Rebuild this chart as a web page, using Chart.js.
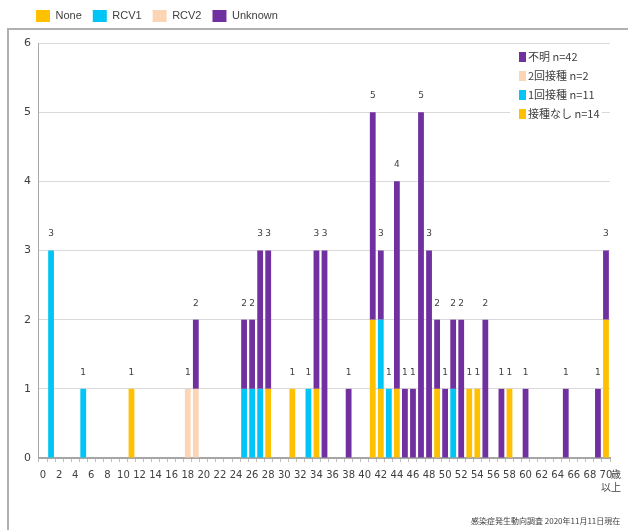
<!DOCTYPE html>
<html>
<head>
<meta charset="utf-8">
<script src="https://cdn.jsdelivr.net/npm/chart.js@4.4.1/dist/chart.umd.min.js"></script>
<style>
  html, body { margin: 0; padding: 0; background: #fff; }
  #wrap { position: relative; width: 628px; height: 530px; }
  #note { position: absolute; left: 471px; top: 515px; font: 8px "Noto Sans CJK JP", sans-serif; color: #404040; white-space: nowrap; }
</style>
</head>
<body>
<div id="wrap">
  <canvas id="chartcanvas" width="628" height="530"></canvas>
  <div id="note">感染症発生動向調査 2020年11月11日現在</div>
</div>
<script>
// ages 0 .. 70 (70 = 70歳以上)
var ages = [
  '0','1','2','3','4','5','6','7','8','9',
  '10','11','12','13','14','15','16','17','18','19',
  '20','21','22','23','24','25','26','27','28','29',
  '30','31','32','33','34','35','36','37','38','39',
  '40','41','42','43','44','45','46','47','48','49',
  '50','51','52','53','54','55','56','57','58','59',
  '60','61','62','63','64','65','66','67','68','69',
  '70'
];

var noneVals = [
  0,0,0,0,0,0,0,0,0,0,
  0,1,0,0,0,0,0,0,0,0,
  0,0,0,0,0,0,0,0,1,0,
  0,1,0,0,1,0,0,0,0,0,
  0,2,1,0,1,0,0,0,0,1,
  0,0,0,1,1,0,0,0,1,0,
  0,0,0,0,0,0,0,0,0,0,
  2
];
var rcv1Vals = [
  0,3,0,0,0,1,0,0,0,0,
  0,0,0,0,0,0,0,0,0,0,
  0,0,0,0,0,1,1,1,0,0,
  0,0,0,1,0,0,0,0,0,0,
  0,0,1,1,0,0,0,0,0,0,
  0,1,0,0,0,0,0,0,0,0,
  0,0,0,0,0,0,0,0,0,0,
  0
];
var rcv2Vals = [
  0,0,0,0,0,0,0,0,0,0,
  0,0,0,0,0,0,0,0,1,1,
  0,0,0,0,0,0,0,0,0,0,
  0,0,0,0,0,0,0,0,0,0,
  0,0,0,0,0,0,0,0,0,0,
  0,0,0,0,0,0,0,0,0,0,
  0,0,0,0,0,0,0,0,0,0,
  0
];
var unknownVals = [
  0,0,0,0,0,0,0,0,0,0,
  0,0,0,0,0,0,0,0,0,1,
  0,0,0,0,0,1,1,2,2,0,
  0,0,0,0,2,3,0,0,1,0,
  0,3,1,0,3,1,1,5,3,1,
  1,1,2,0,0,2,0,1,0,0,
  1,0,0,0,0,1,0,0,0,1,
  1
];

var seriesNames = ['None', 'RCV1', 'RCV2', 'Unknown'];
var seriesJa = ['接種なし', '1回接種', '2回接種', '不明'];
var colors = ['#FFC000', '#00C5F5', '#FCD5B5', '#7030A0'];
var yTicks = [0, 1, 2, 3, 4, 5, 6];

var allVals = [noneVals, rcv1Vals, rcv2Vals, unknownVals];

var datasets = [];
for (var i = 0; i < seriesNames.length; i++) {
  datasets.push({
    label: seriesNames[i],
    data: allVals[i],
    backgroundColor: colors[i],
    borderWidth: 0,
    categoryPercentage: 1.0,
    barPercentage: 0.72
  });
}

// frame around the inner chart
var framePlugin = {
  id: 'frame',
  beforeDraw: function(chart) {
    var c = chart.ctx;
    c.save();
    c.strokeStyle = '#b0b0b0';
    c.lineWidth = 2;
    c.beginPath();
    c.moveTo(8, 530);
    c.lineTo(8, 29);
    c.lineTo(628, 29);
    c.stroke();
    c.restore();
  }
};

// totals above stacks
var totalsPlugin = {
  id: 'totals',
  afterDatasetsDraw: function(chart) {
    var c = chart.ctx;
    var xs = chart.scales.x, ys = chart.scales.y;
    c.save();
    c.font = '9px "DejaVu Sans", sans-serif';
    c.fillStyle = '#404040';
    c.textAlign = 'center';
    c.textBaseline = 'bottom';
    for (var i = 0; i < ages.length; i++) {
      var t = 0;
      for (var k = 0; k < allVals.length; k++) t += allVals[k][i];
      if (t > 0) c.fillText(String(t), xs.getPixelForValue(i), ys.getPixelForValue(t) - 12);
    }
    c.restore();
  }
};

// "歳" and "以上" next to the last tick
var lastTick = {
  id: 'lastTick',
  afterDraw: function(chart) {
    var c = chart.ctx;
    var xs = chart.scales.x;
    var x = xs.getPixelForValue(70);
    c.save();
    c.font = '10px "Noto Sans CJK JP", sans-serif';
    c.fillStyle = '#404040';
    c.textBaseline = 'middle';
    c.textAlign = 'left';
    c.fillText('歳', x + 5, xs.top + 16);
    c.textAlign = 'center';
    c.fillText('以上', x + 5, xs.top + 29);
    c.restore();
  }
};

// japanese legend inside the plot
var innerLegend = {
  id: 'innerLegend',
  afterDatasetsDraw: function(chart) {
    var c = chart.ctx;
    c.save();
    c.fillStyle = '#fff';
    c.fillRect(510, 48, 92, 72);
    c.font = '11px "Noto Sans CJK JP", sans-serif';
    c.textBaseline = 'middle';
    c.textAlign = 'left';
    var y = 57;
    for (var k = allVals.length - 1; k >= 0; k--) {
      var n = 0;
      for (var i = 0; i < allVals[k].length; i++) n += allVals[k][i];
      c.fillStyle = colors[k];
      c.fillRect(519, y - 5, 7, 10);
      c.fillStyle = '#404040';
      c.fillText(seriesJa[k] + ' n=' + n, 528, y);
      y += 19;
    }
    c.restore();
  }
};

var legendGap = {
  id: 'legendGap',
  beforeInit: function(chart) {
    var fit = chart.legend.fit;
    chart.legend.fit = function() {
      fit.bind(chart.legend)();
      this.height += 11;
    };
  },
  afterLayout: function(chart) {
    chart.legend.left += 9;
    chart.legend.right += 9;
  }
};

var ctx = document.getElementById('chartcanvas');
var chart = new Chart(ctx, {
  type: 'bar',
  data: { labels: ages, datasets: datasets },
  plugins: [framePlugin, legendGap, totalsPlugin, innerLegend, lastTick],
  options: {
    responsive: false,
    animation: false,
    layout: { padding: { left: 16, right: 18, top: -1, bottom: 42 } },
    plugins: {
      legend: {
        position: 'top',
        align: 'start',
        labels: {
          boxWidth: 14,
          boxHeight: 12,
          padding: 11,
          color: '#404040',
          font: { family: '"Liberation Sans", sans-serif', size: 11 }
        }
      },
      tooltip: { enabled: false }
    },
    scales: {
      x: {
        stacked: true,
        grid: {
          display: true,
          drawOnChartArea: false,
          drawTicks: true,
          tickLength: 4,
          color: '#bfbfbf',
          offset: true
        },
        border: { color: '#a6a6a6', width: 2 },
        ticks: {
          autoSkip: false,
          maxRotation: 0,
          padding: 7,
          color: '#404040',
          font: { family: '"DejaVu Sans", sans-serif', size: 10 },
          callback: function(v, i) {
            return (i % 2 === 0) ? ages[i] : '';
          }
        }
      },
      y: {
        stacked: true,
        min: 0,
        max: 6,
        afterBuildTicks: function(axis) {
          axis.ticks = yTicks.map(function(v) { return { value: v }; });
        },
        grid: { color: '#d9d9d9', drawTicks: false },
        border: { color: '#a6a6a6', width: 1 },
        ticks: {
          padding: 8,
          color: '#404040',
          font: { family: '"DejaVu Sans", sans-serif', size: 11 }
        }
      }
    }
  }
});
</script>
</body>
</html>
